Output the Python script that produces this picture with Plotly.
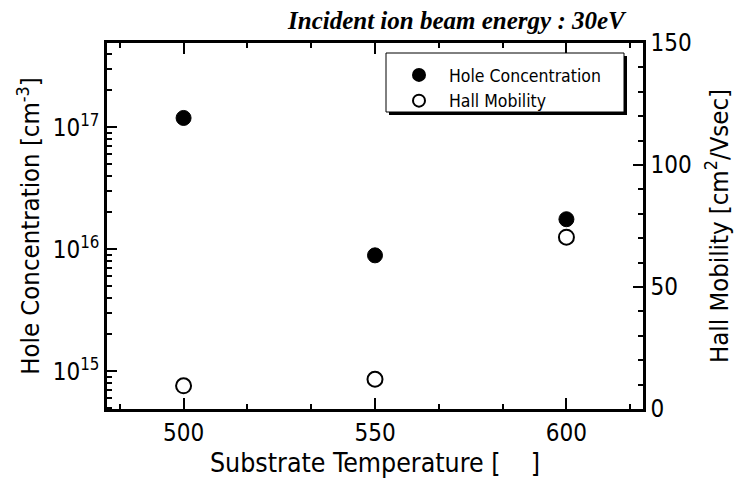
import plotly.graph_objects as go

temperature = [500, 550, 600]
hole_conc = [1.19e17, 8.9e15, 1.76e16]
hall_mobility = [9.5, 12.2, 70.4]

x_major = [500, 550, 600]
x_minor = [483.333, 516.667, 533.333, 566.667, 583.333, 616.667]
y2_major = [0, 50, 100, 150]
y2_minor = [10, 20, 30, 40, 60, 70, 80, 90, 110, 120, 130, 140]
y_major = [1e15, 1e16, 1e17]
y_major_text = ["10<sup>15</sup>", "10<sup>16</sup>", "10<sup>17</sup>"]
y_minor = [m * 10 ** e for e in (14, 15, 16, 17) for m in range(2, 10)]

FONT = "DejaVu Sans Condensed, Liberation Sans Narrow, Arial Narrow, sans-serif"

fig = go.Figure()
fig.add_trace(go.Scatter(
    x=temperature, y=hole_conc, mode="markers", name="\u00a0\u00a0Hole Concentration",
    marker=dict(symbol="circle", size=15, color="black", line=dict(color="black", width=1)),
    yaxis="y"))
fig.add_trace(go.Scatter(
    x=temperature, y=hall_mobility, mode="markers", name="\u00a0\u00a0Hall Mobility",
    marker=dict(symbol="circle-open", size=15, color="black", line=dict(color="black", width=2)),
    yaxis="y2"))

L, R, T, B = 107, 100, 43, 74
W, H = 743, 483
pw, ph = W - L - R, H - T - B

def px(x):
    return (x - L) / pw

def py(y):
    return (H - B - y) / ph

axis_common = dict(showgrid=False, zeroline=False, linecolor="black", linewidth=2.5,
                   ticks="inside", tickcolor="black", tickwidth=1.5, automargin=False)
minor_common = dict(ticks="inside", ticklen=5, tickcolor="black", tickwidth=1.5, tickmode="array")
title_font = dict(family=FONT, size=25.5, color="black")

fig.update_layout(
    width=W, height=H,
    margin=dict(l=L, r=R, t=T, b=B),
    paper_bgcolor="white", plot_bgcolor="white",
    font=dict(family=FONT, color="black"),
    showlegend=True,
    legend=dict(x=px(399), y=py(57), xanchor="left", yanchor="top",
                bgcolor="rgba(0,0,0,0)", borderwidth=0,
                font=dict(family=FONT, size=17.5, color="black"),
                tracegroupgap=0, itemsizing="constant"),
    xaxis=dict(range=[480, 620], tickmode="array", tickvals=x_major, ticklen=11, mirror="ticks",
               tickfont=dict(family=FONT, size=24, color="black"),
               minor=dict(tickvals=x_minor, **minor_common),
               title=dict(text="Substrate Temperature [    ]",
                          font=dict(family=FONT, size=26.5, color="black"), standoff=2),
               **axis_common),
    yaxis=dict(type="log", range=[14.69, 17.69], tickmode="array", tickvals=y_major,
               ticktext=y_major_text, ticklen=10,
               tickfont=dict(family=FONT, size=24, color="black"),
               minor=dict(tickvals=y_minor, **minor_common),
               title=dict(text="Hole Concentration [cm<sup>-3</sup>]", font=title_font, standoff=6),
               **axis_common),
    yaxis2=dict(overlaying="y", side="right", range=[0, 150], tickmode="array", tickvals=y2_major, ticklen=10,
                tickfont=dict(family=FONT, size=24, color="black"),
                minor=dict(tickvals=y2_minor, **minor_common),
                title=dict(text="Hall Mobility [cm<sup>2</sup>/Vsec]", font=title_font, standoff=20),
                **axis_common),
)

# legend frame with drop shadow
fig.add_shape(type="rect", xref="paper", yref="paper",
              x0=px(389), x1=px(627), y0=py(115), y1=py(56),
              fillcolor="black", line=dict(width=0))
fig.add_shape(type="rect", xref="paper", yref="paper",
              x0=px(386), x1=px(624), y0=py(112), y1=py(53),
              fillcolor="white", line=dict(color="black", width=1))

fig.add_annotation(text="<b><i>Incident ion beam energy : 30eV</i></b>",
                   xref="paper", yref="paper", x=px(629), y=py(21),
                   xanchor="right", yanchor="middle", showarrow=False,
                   font=dict(family="Liberation Serif, Times New Roman, serif", size=25, color="black"))

fig.write_html("out.html")
